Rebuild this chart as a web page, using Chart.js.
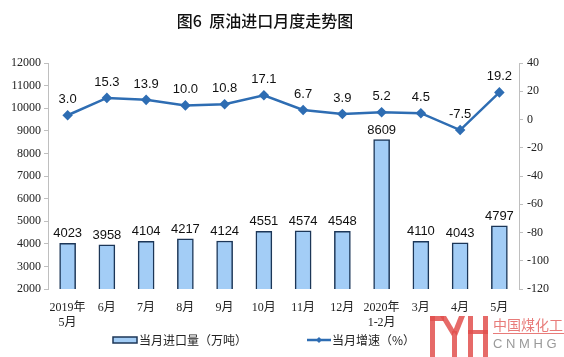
<!DOCTYPE html>
<html><head><meta charset="utf-8">
<script src="https://cdn.jsdelivr.net/npm/chart.js@4"></script>
<style>html,body{margin:0;padding:0;background:#fff;}#wrap{width:564px;height:357px;position:relative;}</style>
</head><body><div id="wrap"><canvas id="c" width="564" height="357"></canvas></div>
<script>
const categories = [["2019年","5月"],"6月","7月","8月","9月","10月","11月","12月",["2020年","1-2月"],"3月","4月","5月"];
const importVolume = [4023,3958,4104,4217,4124,4551,4574,4548,8609,4110,4043,4797];
const growthRate = [3.0,15.3,13.9,10.0,10.8,17.1,6.7,3.9,5.2,4.5,-7.5,19.2];
const titleText = "图6  原油进口月度走势图";
const legendBar = "当月进口量（万吨）";
const legendLine = "当月增速（%）";

const LINE = "#2E6DB3", BARFILL = "#A3CDF6", BAREDGE = "#1C3657";

const overlay = {
  id: "overlay",
  afterDatasetsDraw(chart) {
    const ctx = chart.ctx;
    ctx.save();
    ctx.fillStyle = "#111";
    ctx.textAlign = "center";
    ctx.textBaseline = "alphabetic";
    ctx.font = "13px 'Liberation Sans', Arial, sans-serif";
    chart.getDatasetMeta(1).data.forEach((el, i) => {
      ctx.fillText(String(importVolume[i]), el.x, el.y - 6);
    });
    chart.getDatasetMeta(0).data.forEach((el, i) => {
      ctx.fillText(growthRate[i].toFixed(1), el.x, el.y - 12);
    });
    ctx.restore();
  },
  afterDraw(chart) {
    const ctx = chart.ctx;
    ctx.save();
    // title
    ctx.fillStyle = "#111";
    ctx.textAlign = "center";
    ctx.textBaseline = "middle";
    ctx.font = "500 16px 'Noto Sans CJK SC', sans-serif";
    ctx.fillText(titleText, 265, 21);
    // legend
    ctx.font = "12px 'Noto Sans CJK SC', sans-serif";
    ctx.textAlign = "left";
    ctx.fillStyle = BARFILL;
    ctx.strokeStyle = BAREDGE;
    ctx.lineWidth = 1.5;
    ctx.fillRect(113, 337, 24, 6);
    ctx.strokeRect(113, 337, 24, 6);
    ctx.fillStyle = "#222";
    ctx.fillText(legendBar, 139, 340);
    ctx.strokeStyle = LINE;
    ctx.lineWidth = 2.5;
    ctx.beginPath(); ctx.moveTo(307, 340); ctx.lineTo(331, 340); ctx.stroke();
    ctx.fillStyle = LINE;
    ctx.beginPath(); ctx.moveTo(319, 337); ctx.lineTo(322, 340); ctx.lineTo(319, 343); ctx.lineTo(316, 340); ctx.closePath(); ctx.fill();
    ctx.fillStyle = "#222";
    ctx.fillText(legendLine, 332, 340);
    // watermark
    ctx.fillStyle = "rgba(226,80,78,0.85)";
    ctx.fillRect(430, 316, 5, 41);
    ctx.fillRect(430, 316, 14, 5);
    ctx.beginPath(); ctx.moveTo(440,316); ctx.lineTo(446,316); ctx.lineTo(455,331); ctx.lineTo(452,336); ctx.closePath(); ctx.fill();
    ctx.beginPath(); ctx.moveTo(459,316); ctx.lineTo(465,316); ctx.lineTo(457,336); ctx.lineTo(453,331); ctx.closePath(); ctx.fill();
    ctx.fillRect(452, 331, 5, 26);
    ctx.fillRect(468, 316, 5, 41);
    ctx.fillRect(483, 316, 5, 41);
    ctx.fillRect(468, 330, 20, 4);
    ctx.font = "14px 'Noto Sans CJK SC', sans-serif";
    ctx.fillStyle = "rgba(226,90,88,0.8)";
    ctx.fillText("中国煤化工", 493, 325);
    ctx.fillRect(493, 333, 71, 1);
    ctx.font = "13px 'Liberation Sans', sans-serif";
    ctx.fillStyle = "#9a9a9a";
    ctx.fillText("C N M H G", 493, 344);
    ctx.restore();
  }
};

new Chart(document.getElementById("c"), {
  data: {
    labels: categories,
    datasets: [
      { type: "line", label: legendLine, data: growthRate, yAxisID: "y1", order: 0,
        borderColor: LINE, backgroundColor: LINE, borderWidth: 2.5, tension: 0,
        pointStyle: "rectRot", pointRadius: 3.5, pointBackgroundColor: LINE, pointBorderColor: LINE },
      { type: "bar", label: legendBar, data: importVolume, yAxisID: "y", order: 1,
        backgroundColor: BARFILL, borderColor: BAREDGE, borderWidth: 1.5, barThickness: 16 }
    ]
  },
  options: {
    responsive: false, animation: false,
    layout: { padding: { top: 63, left: 0, right: 0, bottom: 0 } },
    plugins: { legend: { display: false }, title: { display: false }, tooltip: { enabled: false } },
    scales: {
      x: {
        grid: { display: false }, border: { display: false },
        ticks: { color: "#222", font: { family: "'Liberation Serif', 'Noto Sans CJK SC', serif", size: 12 }, padding: 4, maxRotation: 0, autoSkip: false },
        afterFit(s) { s.height = 68; }
      },
      y: {
        position: "left", min: 2000, max: 12000,
        grid: { drawOnChartArea: false, color: "#BFBFBF", tickLength: 4 },
        border: { color: "#BFBFBF" },
        ticks: { stepSize: 1000, color: "#222", padding: 3, font: { family: "'Liberation Serif', serif", size: 12 }, callback: v => String(v) },
        afterFit(s) { s.width = 48; }
      },
      y1: {
        position: "right", min: -120, max: 40,
        grid: { drawOnChartArea: false, color: "#BFBFBF", tickLength: 4 },
        border: { color: "#BFBFBF" },
        ticks: { stepSize: 20, color: "#222", padding: 4, font: { family: "'Liberation Serif', serif", size: 12 }, callback: v => String(v) },
        afterFit(s) { s.width = 45; }
      }
    }
  },
  plugins: [overlay]
});
</script></body></html>
